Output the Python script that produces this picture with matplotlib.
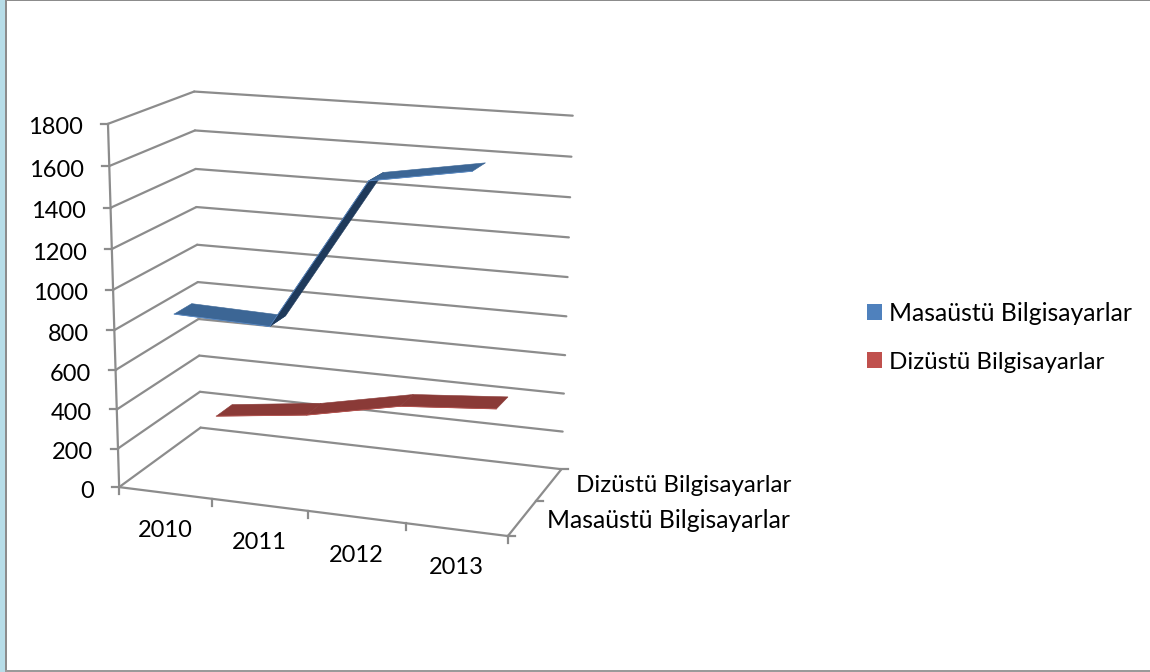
"""Excel style 3-D line chart, drawn on a flat axes through a small projection."""
import numpy as np
import matplotlib.pyplot as plt
import matplotlib.patches as mpatches

plt.rcParams["font.family"] = ["Lato", "DejaVu Sans"]

YEARS = ["2010", "2011", "2012", "2013"]
SERIES = ["Masaüstü Bilgisayarlar", "Dizüstü Bilgisayarlar"]
DESKTOP = [865, 850, 1590, 1670]
LAPTOP = [200, 260, 360, 400]
VALUE_TICKS = [0, 200, 400, 600, 800, 1000, 1200, 1400, 1600, 1800]
VALUE_MAX = 1800

W, H = 1150, 672
GRID = "#8C8C8C"
TEXT = "#000000"
FS = 17.8
FS_SHORT = 17.4
FS_NUM = 17.0

# box corners (category, value, depth) -> pixel, used to fit the camera
BOX = [
    ((0, 0, 0), (119, 487)), ((0, 1, 0), (109, 123)),
    ((0, 0, 1), (201, 428)), ((0, 1, 1), (193, 92)),
    ((1, 0, 1), (562, 468)), ((1, 1, 1), (573, 116)),
    ((1, 0, 0), (507, 537)),
]
A, b = [], []
for (u, v, w), (px, py) in BOX:
    A.append([u, v, w, 1, 0, 0, 0, 0, -px * u, -px * v, -px * w])
    A.append([0, 0, 0, 0, u, v, w, 1, -py * u, -py * v, -py * w])
    b += [px, py]
CAM = np.append(np.linalg.lstsq(np.array(A, float), np.array(b, float), rcond=None)[0], 1).reshape(3, 4)


def proj(u, value, w):
    x, y, s = CAM @ np.array([u, value / VALUE_MAX, w, 1.0])
    return x / s, y / s


def seg(ax, a, b, lw=1.6, color=GRID, z=1):
    p, q = proj(*a), proj(*b)
    ax.plot([p[0], q[0]], [p[1], q[1]], color=color, lw=lw, zorder=z, solid_capstyle="round")


fig = plt.figure(figsize=(W / 100, H / 100), dpi=100)
ax = fig.add_axes([0, 0, 1, 1])
ax.set_xlim(0, W)
ax.set_ylim(H, 0)
ax.axis("off")

# window frame
ax.add_patch(mpatches.Rectangle((0, 0), 5, H, facecolor="#B7DDE8", edgecolor="none"))
ax.add_patch(mpatches.Rectangle((5, 0), 2, H, facecolor="#8C8C8C", edgecolor="none"))
ax.add_patch(mpatches.Rectangle((5, 0), W, 1.3, facecolor="#8C8C8C", edgecolor="none"))
ax.add_patch(mpatches.Rectangle((5, H - 2), W, 2, facecolor="#9A9A9A", edgecolor="none"))

# walls, floor
for val in VALUE_TICKS:
    seg(ax, (0, val, 0), (0, val, 1))
    seg(ax, (0, val, 1), (1, val, 1))
    x, y = proj(0, val, 0)
    ax.plot([x - 7, x], [y, y], color=GRID, lw=1.6, zorder=1)
    ax.text(x - 25, y + 4, str(val), ha="right", va="center", fontsize=FS_NUM, color=TEXT)
seg(ax, (0, 0, 0), (0, VALUE_MAX, 0))
seg(ax, (0, 0, 0), (1, 0, 0))
seg(ax, (1, 0, 0), (1, 0, 1))
x, y = proj(0, 0, 0)
ax.plot([x, x], [y, y + 7], color=GRID, lw=1.6, zorder=1)

for i in range(1, 5):
    x, y = proj(i / 4, 0, 0)
    ax.plot([x, x], [y, y + 7], color=GRID, lw=1.6, zorder=1)
for w in (0, 0.5, 1):
    x, y = proj(1, 0, w)
    ax.plot([x, x + 7], [y, y], color=GRID, lw=1.6, zorder=1)

for i, year in enumerate(YEARS):
    x, y = proj((i + 0.5) / 4, 0, 0)
    ax.text(x, y + 38, year, ha="center", va="center", fontsize=FS_NUM, color=TEXT)

ax.text(791, 486, SERIES[1], ha="right", va="center", fontsize=FS_SHORT, color=TEXT)
ax.text(790, 520, SERIES[0], ha="right", va="center", fontsize=FS, color=TEXT)


def ribbon(ax, values, z0, z1, flat, steep, edge):
    """One quad per segment; steep ones get the shadow colour."""
    for i in range(len(values) - 1):
        ua, ub = (i + 0.5) / 4, (i + 1.5) / 4
        va, vb = values[i], values[i + 1]
        quad = [proj(ua, va, z0), proj(ub, vb, z0), proj(ub, vb, z1), proj(ua, va, z1)]
        col = steep if abs(vb - va) > 200 else flat
        ax.add_patch(mpatches.Polygon(quad, closed=True, facecolor=col, edgecolor=col, lw=0.4, zorder=3))
        ax.plot([quad[0][0], quad[1][0]], [quad[0][1], quad[1][1]], color=edge, lw=0.6, zorder=4)


ribbon(ax, LAPTOP, 0.64, 0.85, "#8A3A37", "#8A3A37", "#B5504C")
ribbon(ax, DESKTOP, 0.15, 0.36, "#3C6695", "#1F3A5B", "#5B8BC6")

handles = [
    mpatches.Patch(facecolor="#4F81BD", edgecolor="none", label=SERIES[0]),
    mpatches.Patch(facecolor="#C0504D", edgecolor="none", label=SERIES[1]),
]
leg = ax.legend(
    handles=handles, loc="upper left", bbox_to_anchor=(867, 302), bbox_transform=ax.transData,
    frameon=False, fontsize=FS, handlelength=0.62, handleheight=0.62, handletextpad=0.28,
    labelspacing=1.08, borderpad=0, borderaxespad=0, labelcolor=TEXT,
)
leg.get_texts()[1].set_fontsize(FS_SHORT)

fig.savefig("out.png", dpi=100)
